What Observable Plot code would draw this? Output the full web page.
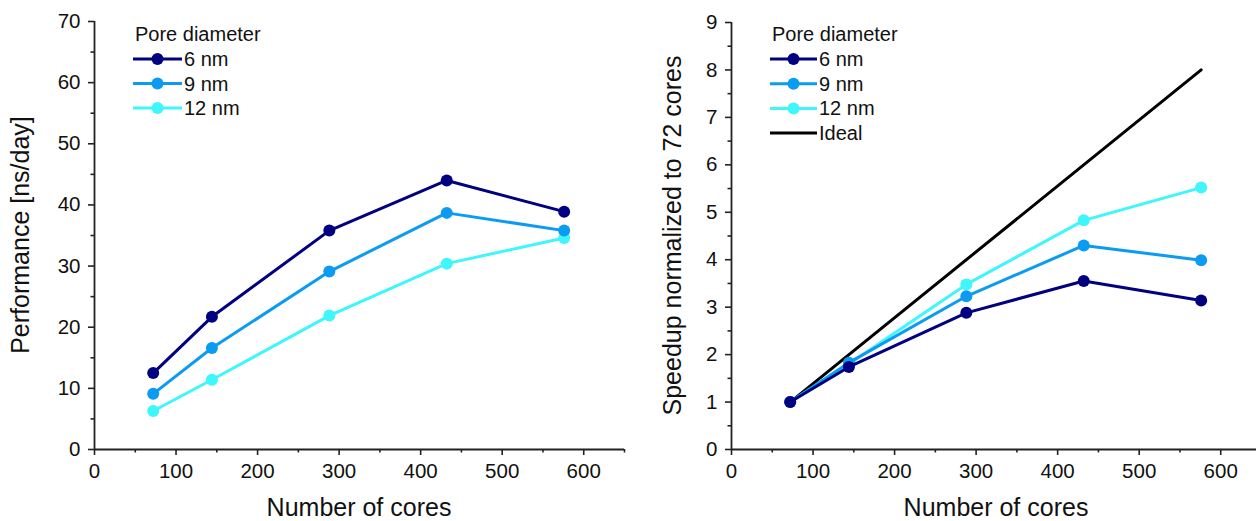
<!DOCTYPE html>
<html>
<head>
<meta charset="utf-8">
<script src="https://cdn.jsdelivr.net/npm/d3@7"></script>
<script src="https://cdn.jsdelivr.net/npm/@observablehq/plot@0.6"></script>
<style>
  html, body { margin: 0; padding: 0; background: #fff; overflow: hidden; }
  #wrap { position: relative; width: 1256px; height: 521px; overflow: hidden; }
  #wrap svg { position: absolute; top: 0; }
</style>
</head>
<body>
<div id="wrap"></div>
<script>
// ---------- data ----------
const cores = [72, 144, 288, 432, 576];
const seriesNames = ["6 nm", "9 nm", "12 nm"];
const seriesColors = ["#000080", "#0b9bf2", "#3ef6fb"];
const perf6 = [12.5, 21.7, 35.8, 44.0, 38.9];
const perf9 = [9.1, 16.6, 29.1, 38.7, 35.8];
const perf12 = [6.3, 11.4, 21.9, 30.4, 34.6];
const speed6 = [1, 1.74, 2.88, 3.55, 3.14];
const speed9 = [1, 1.83, 3.23, 4.30, 3.99];
const speed12 = [1, 1.80, 3.48, 4.83, 5.52];
const idealCores = [72, 576];
const idealSpeed = [1, 8];
const xMajor = [0, 100, 200, 300, 400, 500, 600];
const xMinor = [50, 150, 250, 350, 450, 550, 650];
const perfMajor = [0, 10, 20, 30, 40, 50, 60, 70];
const perfMinor = [5, 15, 25, 35, 45, 55, 65];
const speedMajor = [0, 1, 2, 3, 4, 5, 6, 7, 8, 9];
const speedMinor = [0.5, 1.5, 2.5, 3.5, 4.5, 5.5, 6.5, 7.5, 8.5];
const legendTitle = "Pore diameter";
const idealLabel = "Ideal";
const xTitle = "Number of cores";
const perfTitle = "Performance [ns/day]";
const speedTitle = "Speedup normalized to 72 cores";

const FONT = "'Liberation Sans', Arial, Helvetica, sans-serif";
const AXIS = "#222";
const R = 6;

function rows(values, name) {
  return cores.map((c, i) => ({cores: c, value: values[i], series: name}));
}

function panel(opts) {
  const marks = [];
  marks.push(Plot.ruleX([0], {stroke: AXIS, strokeWidth: 1.8}));
  marks.push(Plot.ruleY([0], {stroke: AXIS, strokeWidth: 1.8}));
  marks.push(Plot.axisX({ticks: xMajor, tickSize: 6, tickPadding: 8, label: null, stroke: AXIS, strokeWidth: 1.6, fill: "#111"}));
  marks.push(Plot.axisX({ticks: xMinor, tickSize: 3.5, text: null, label: null, stroke: AXIS, strokeWidth: 1.6}));
  marks.push(Plot.axisY({ticks: opts.yMajor, tickSize: 6, tickPadding: 8, label: null, stroke: AXIS, strokeWidth: 1.6, fill: "#111"}));
  marks.push(Plot.axisY({ticks: opts.yMinor, tickSize: 3.5, text: null, label: null, stroke: AXIS, strokeWidth: 1.6}));
  if (opts.ideal) {
    const idealRows = idealCores.map((c, i) => ({cores: c, value: idealSpeed[i]}));
    marks.push(Plot.line(idealRows, {x: "cores", y: "value", stroke: "#000", strokeWidth: 3}));
  }
  // draw 12 nm first so 6 nm ends up on top
  for (let k = opts.series.length - 1; k >= 0; k--) {
    const data = rows(opts.series[k], seriesNames[k]);
    marks.push(Plot.line(data, {x: "cores", y: "value", stroke: seriesColors[k], strokeWidth: 3}));
    marks.push(Plot.dot(data, {x: "cores", y: "value", r: R, fill: seriesColors[k], stroke: "none"}));
  }
  const svg = Plot.plot({
    width: opts.width,
    height: 521,
    marginLeft: opts.marginLeft,
    marginRight: opts.marginRight,
    marginTop: opts.marginTop,
    marginBottom: 72,
    x: {domain: [0, 650]},
    y: {domain: opts.yDomain},
    style: {fontFamily: FONT, fontSize: "20.5px", color: "#111", background: "transparent", overflow: "visible"},
    marks
  });
  svg.style.left = opts.left + "px";
  const s = d3.select(svg);
  // axis titles
  s.append("text")
    .attr("x", opts.marginLeft + (opts.width - opts.marginLeft - opts.marginRight) / 2)
    .attr("y", 516)
    .attr("text-anchor", "middle")
    .style("font-family", FONT).style("font-size", "25px").attr("fill", "#111")
    .text(xTitle);
  s.append("text")
    .attr("transform", `translate(${opts.yTitleX},${opts.marginTop + (449 - opts.marginTop) / 2}) rotate(-90)`)
    .attr("text-anchor", "middle")
    .style("font-family", FONT).style("font-size", "25px").attr("fill", "#111")
    .text(opts.yTitle);
  // legend
  const L = opts.legend;
  const g = s.append("g").attr("text-anchor", "start")
    .style("font-family", FONT).style("font-size", "20px").attr("fill", "#111");
  g.append("text").attr("x", L.titleX).attr("y", 41).text(legendTitle);
  const entries = seriesNames.map((n, i) => ({label: n, color: seriesColors[i], dot: true}));
  if (opts.ideal) entries.push({label: idealLabel, color: "#000", dot: false});
  entries.forEach((e, i) => {
    const y = L.y0 + i * L.dy;
    g.append("line").attr("x1", L.x1).attr("x2", L.x2).attr("y1", y).attr("y2", y)
      .attr("stroke", e.color).attr("stroke-width", 3);
    if (e.dot) g.append("circle").attr("cx", (L.x1 + L.x2) / 2).attr("cy", y).attr("r", R).attr("fill", e.color);
    g.append("text").attr("x", L.x2 + 2).attr("y", y + 7).text(e.label);
  });
  return svg;
}

const wrap = document.getElementById("wrap");
wrap.appendChild(panel({
  left: 0, width: 640, marginLeft: 94, marginRight: 16, marginTop: 21,
  yDomain: [0, 70], yMajor: perfMajor, yMinor: perfMinor,
  series: [perf6, perf9, perf12], ideal: false,
  yTitle: perfTitle, yTitleX: 29,
  legend: {titleX: 135, x1: 133, x2: 182, y0: 59, dy: 24.5}
}));
wrap.appendChild(panel({
  left: 640, width: 621, marginLeft: 91, marginRight: 0, marginTop: 22,
  yDomain: [0, 9], yMajor: speedMajor, yMinor: speedMinor,
  series: [speed6, speed9, speed12], ideal: true,
  yTitle: speedTitle, yTitleX: 41,
  legend: {titleX: 132, x1: 130, x2: 177, y0: 59, dy: 24.7}
}));
</script>
</body>
</html>
